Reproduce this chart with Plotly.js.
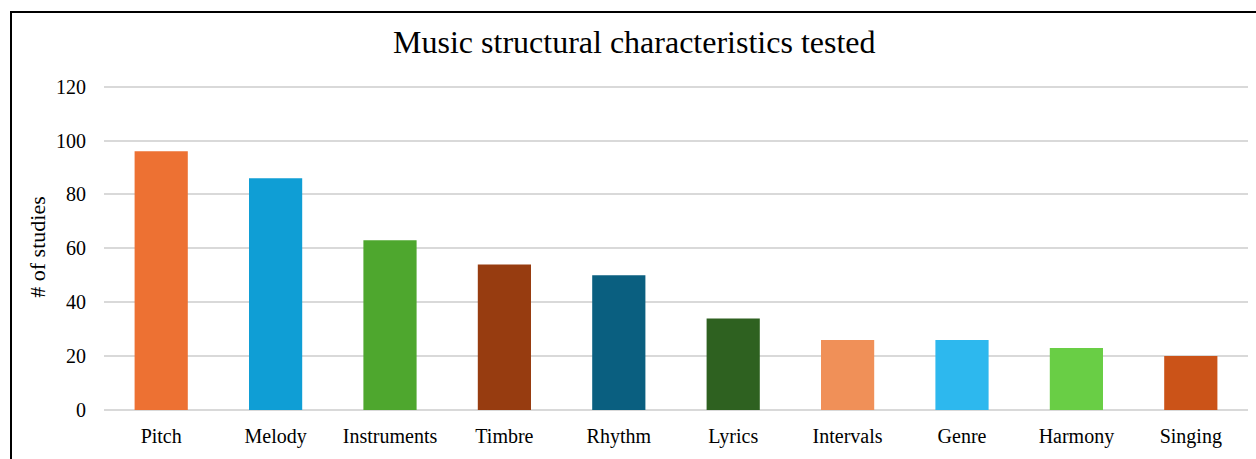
<!DOCTYPE html>
<html>
<head>
<meta charset="utf-8">
<script src="https://cdn.plot.ly/plotly-3.0.1.min.js"></script>
<style>
html,body{margin:0;padding:0;background:#fff;overflow:hidden;}
#wrap{position:relative;width:1256px;height:459px;}
#chart{width:1256px;height:459px;}
#frame{position:absolute;left:10px;top:11px;width:1300px;height:500px;border-left:2.5px solid #000;border-top:2.5px solid #000;pointer-events:none;}
</style>
</head>
<body>
<div id="wrap">
<div id="chart"></div>
<div id="frame"></div>
</div>
<script>
const categories = ["Pitch","Melody","Instruments","Timbre","Rhythm","Lyrics","Intervals","Genre","Harmony","Singing"];
const studies = [96, 86, 63, 54, 50, 34, 26, 26, 23, 20];
const barColors = ["#ED7133","#0F9ED5","#4EA72E","#973C10","#0A5F80","#2E6120","#F09058","#2DB8EE","#69CE45","#CB5318"];
const yTicks = [0, 20, 40, 60, 80, 100, 120];

const font = "Liberation Serif, Times New Roman, serif";

Plotly.newPlot("chart", [{
  type: "bar",
  x: categories,
  y: studies,
  marker: {color: barColors, line: {width: 0}},
  hoverinfo: "x+y"
}], {
  width: 1256, height: 459,
  margin: {l: 104, r: 8, t: 84, b: 49},
  paper_bgcolor: "#fff", plot_bgcolor: "#fff",
  bargap: 0.535,
  showlegend: false,
  font: {family: font, color: "#000", size: 20},
  title: {text: "Music structural characteristics tested", font: {family: font, size: 32, color: "#000"},
          x: 0.505, xanchor: "center", y: 1 - 42/459, yanchor: "middle", yref: "container"},
  xaxis: {type: "category", showgrid: false, zeroline: false, showline: false,
          ticks: "", ticklabelstandoff: 12, tickfont: {family: font, size: 20, color: "#000"}},
  yaxis: {range: [0, 121], tickvals: yTicks, ticktext: yTicks.map(String),
          showgrid: true, gridcolor: "#D9D9D9", gridwidth: 1.5,
          zeroline: true, zerolinecolor: "#D9D9D9", zerolinewidth: 1.5, showline: false,
          ticks: "", ticklabelstandoff: 17, tickfont: {family: font, size: 20, color: "#000"},
          title: {text: "# of studies", font: {family: font, size: 22, color: "#000"}, standoff: 4}}
}, {displayModeBar: false});
</script>
</body>
</html>
